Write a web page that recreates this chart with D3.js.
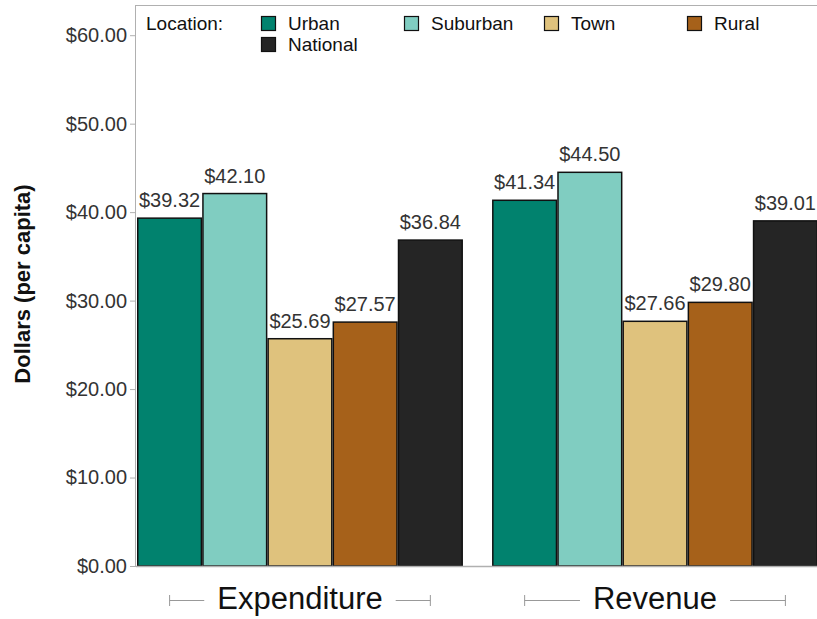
<!DOCTYPE html>
<html>
<head>
<meta charset="utf-8">
<script src="https://cdn.jsdelivr.net/npm/d3@7"></script>
<style>
  body { margin: 0; background: #fff; }
  text { font-family: "Liberation Sans", Arial, sans-serif; }
</style>
</head>
<body>
<div id="chart"></div>
<script>
// data
var groups = ["Expenditure", "Revenue"];
var locations = ["Urban", "Suburban", "Town", "Rural", "National"];
var expenditure = [39.32, 42.10, 25.69, 27.57, 36.84];
var revenue = [41.34, 44.50, 27.66, 29.80, 39.01];
var colors = ["#01826e", "#80cdc1", "#dfc27d", "#a6611a", "#252525"];
var yTicks = [0, 10, 20, 30, 40, 50, 60];

var values = { Expenditure: expenditure, Revenue: revenue };

var drawChart = function() {
    var width = 817, height = 619;
    var pLeft = 137, pRight = 818, pTop = 6, pBottom = 566;

    var svg = d3.select("#chart").append("svg")
        .attr("width", width)
        .attr("height", height);

    var y = d3.scaleLinear().domain([0, 63.3]).range([pBottom, pTop]);

    var x0 = d3.scaleBand().domain(groups).range([pLeft, pRight])
        .paddingInner(0.082).paddingOuter(0);
    var x1 = d3.scaleBand().domain(locations).range([0, x0.bandwidth()]).padding(0);

    // frame
    svg.append("line")
        .attr("x1", pLeft - 1).attr("x2", width)
        .attr("y1", pTop - 0.5).attr("y2", pTop - 0.5)
        .attr("stroke", "#b0b0b0");

    // y axis
    var yAxis = svg.append("g")
        .attr("transform", "translate(" + (pLeft - 1) + ",0)")
        .call(d3.axisLeft(y).tickValues(yTicks).tickSize(6).tickPadding(3)
            .tickFormat(function(d) { return "$" + d3.format(".2f")(d); }));
    yAxis.select(".domain").attr("stroke", "#b0b0b0").attr("d", "M-0.5," + (pTop - 1) + "V" + pBottom);
    yAxis.selectAll(".tick line").attr("stroke", "#b0b0b0");
    yAxis.selectAll(".tick text").attr("fill", "#333")
        .style("font-family", "'Liberation Sans', Arial, sans-serif")
        .style("font-size", "20px");

    svg.append("text")
        .attr("transform", "translate(30," + 284 + ") rotate(-90)")
        .attr("text-anchor", "middle")
        .style("font-size", "22px")
        .style("font-weight", "bold")
        .attr("fill", "#111")
        .text("Dollars (per capita)");

    // bars
    var g = svg.selectAll(".grp").data(groups).enter().append("g")
        .attr("class", "grp")
        .attr("transform", function(d) { return "translate(" + x0(d) + ",0)"; });

    var rows = function(grp) {
        return locations.map(function(loc, i) { return { loc: loc, v: values[grp][i], c: colors[i] }; });
    };

    g.selectAll("rect").data(rows).enter().append("rect")
        .attr("x", function(d) { return x1(d.loc) + 0.75; })
        .attr("width", x1.bandwidth() - 1.5)
        .attr("y", function(d) { return y(d.v); })
        .attr("height", function(d) { return pBottom - y(d.v); })
        .attr("fill", function(d) { return d.c; })
        .attr("stroke", "#111")
        .attr("stroke-width", 1.5);

    g.selectAll("text.val").data(rows).enter().append("text")
        .attr("class", "val")
        .attr("x", function(d) { return x1(d.loc) + x1.bandwidth() / 2; })
        .attr("y", function(d) { return y(d.v) - 11; })
        .attr("text-anchor", "middle")
        .style("font-size", "20px")
        .attr("fill", "#333")
        .text(function(d) { return "$" + d3.format(".2f")(d.v); });

    // bottom axis line
    svg.append("line")
        .attr("x1", pLeft - 1).attr("x2", width)
        .attr("y1", pBottom + 0.5).attr("y2", pBottom + 0.5)
        .attr("stroke", "#b0b0b0").attr("stroke-width", 1.5);

    // group labels with brackets
    var lab = svg.selectAll(".glab").data(groups).enter().append("g")
        .attr("class", "glab")
        .attr("transform", function(d) { return "translate(" + (x0(d) + x0.bandwidth() / 2) + ",600)"; });

    lab.append("text")
        .attr("text-anchor", "middle")
        .attr("y", 9)
        .style("font-size", "31px")
        .attr("fill", "#111")
        .text(function(d) { return d; });

    lab.each(function() {
        var sel = d3.select(this);
        var half = x0.bandwidth() * 0.4;
        var tw = this.querySelector("text").getComputedTextLength() / 2 + 13;
        [-1, 1].forEach(function(s) {
            sel.append("line")
                .attr("x1", s * tw).attr("x2", s * half)
                .attr("y1", 0.5).attr("y2", 0.5)
                .attr("stroke", "#999");
            sel.append("line")
                .attr("x1", s * half).attr("x2", s * half)
                .attr("y1", -5).attr("y2", 6)
                .attr("stroke", "#999");
        });
    });

    // legend
    var legend = svg.append("g");
    legend.append("text")
        .attr("x", 146).attr("y", 30)
        .style("font-size", "19px")
        .attr("fill", "#111")
        .text("Location:");

    var legX = [261, 404, 544, 687, 261];
    var legY = [16, 16, 16, 16, 37];
    var items = legend.selectAll(".li").data(locations).enter().append("g")
        .attr("class", "li")
        .attr("transform", function(d, i) { return "translate(" + legX[i] + "," + legY[i] + ")"; });
    items.append("rect")
        .attr("x", 0.5).attr("y", 0.5)
        .attr("width", 14).attr("height", 14)
        .attr("fill", function(d, i) { return colors[i]; })
        .attr("stroke", "#111").attr("stroke-width", 1.2);
    items.append("text")
        .attr("x", 27).attr("y", 14)
        .style("font-size", "19px")
        .attr("fill", "#111")
        .text(function(d) { return d; });
};

drawChart();
</script>
</body>
</html>
